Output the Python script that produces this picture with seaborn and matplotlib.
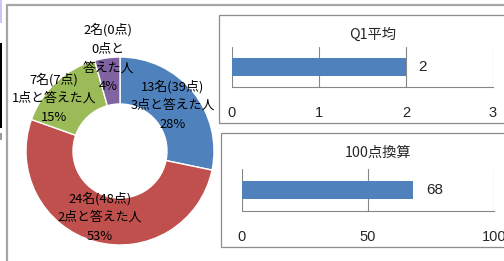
import numpy as np
import pandas as pd
import seaborn as sns
import matplotlib.pyplot as plt
from matplotlib.patches import Rectangle
from matplotlib.lines import Line2D

# dados do gráfico
grupos = ["3点と答えた人", "2点と答えた人", "1点と答えた人", "0点と\n答えた人"]
nomes = [13, 24, 7, 2]
pontos = [39, 48, 7, 0]
percentuais = [28, 53, 15, 4]
cores = ["#4F81BD", "#C0504D", "#9BBB59", "#8064A2"]

q1_titulo = "Q1平均"
q1_media = 2
q1_ticks = [0, 1, 2, 3]

cem_titulo = "100点換算"
cem_valor = 68
cem_ticks = [0, 50, 100]

W, H = 504, 261

sns.set_style("white")
plt.rcParams['font.family'] = ['Noto Sans CJK JP', 'DejaVu Sans']

fig = plt.figure(figsize=(W / 100, H / 100), dpi=100)
fig.patch.set_facecolor("white")


def fx(px):
    return px / W


def fy(py):
    return 1 - py / H


# moldura externa e marcas da planilha à esquerda
moldura = "#A6A6A6"
fig.add_artist(Line2D([fx(7), fx(504)], [fy(5), fy(5)], color=moldura, lw=1.6, zorder=-2))
fig.add_artist(Line2D([fx(7), fx(7)], [fy(5), fy(261)], color=moldura, lw=1.6, zorder=-2))
fig.add_artist(Rectangle((0, fy(23)), fx(1.5), 23 / H, color="#C8C8F4", lw=0))
fig.add_artist(Rectangle((0, fy(128)), fx(2.2), 85 / H, color="black", lw=0))
fig.add_artist(Rectangle((0, fy(140)), fx(1.5), 7 / H, color="#9A9A9A", lw=0))

# rosca
R = 94
cx, cy = 120, 151
ax_pie = fig.add_axes([fx(cx - R), fy(cy + R), 2 * R / W, 2 * R / H])
ax_pie.pie(nomes, colors=cores, startangle=90, counterclock=False,
           wedgeprops=dict(width=0.5, edgecolor="white", linewidth=1))
ax_pie.set_xlim(-1, 1)
ax_pie.set_ylim(-1, 1)
ax_pie.set_aspect("auto")
ax_pie.axis("off")

# rótulos da rosca
posicoes = [(173, 105), (100, 217), (54, 98), (108, 58)]
for g, n, p, pc, (px, py) in zip(grupos, nomes, pontos, percentuais, posicoes):
    texto = f"{n}名({p}点)\n{g}\n{pc}%"
    fig.text(fx(px), fy(py), texto, ha="center", va="center", ma="center",
             fontsize=9.3, color="black", linespacing=1.58)

# caixas dos gráficos de barras (atrás dos eixos)
borda = "#8C8C8C"
fig.add_artist(Rectangle((fx(219), fy(123)), fx(300), 108 / H,
                         facecolor="white", edgecolor=borda, lw=0.9, zorder=-1))
fig.add_artist(Rectangle((fx(221), fy(247)), fx(300), 114 / H,
                         facecolor="white", edgecolor=borda, lw=0.9, zorder=-1))


def barra(ax, valor, ticks, titulo, tx, ty):
    sns.barplot(x=[valor], y=[titulo], orient="h", color="#4F81BD",
                width=0.43, saturation=1, linewidth=0, ax=ax)
    ax.set_xlim(ticks[0], ticks[-1])
    ax.set_ylim(0.5, -0.5)
    ax.set_xticks(ticks)
    ax.set_xticklabels([str(t) for t in ticks], family="Liberation Sans", fontsize=10.5)
    ax.set_yticks([])
    ax.set_xlabel("")
    ax.set_ylabel("")
    ax.tick_params(axis="x", length=0, pad=14)
    ax.grid(axis="x", color="#868686", lw=0.8)
    ax.set_axisbelow(True)
    for s in ["top", "left", "right"]:
        ax.spines[s].set_visible(False)
    ax.spines["bottom"].set_color("#868686")
    ax.spines["bottom"].set_linewidth(0.8)
    ax.patch.set_alpha(0)
    ax.bar_label(ax.containers[0], padding=9, fontsize=11, family="Liberation Sans")
    fig.text(fx(tx), fy(ty), titulo, ha="center", va="center", fontsize=10.3)


ax1 = fig.add_axes([fx(232), fy(87), 261 / W, 40 / H])
barra(ax1, q1_media, q1_ticks, q1_titulo, 373, 35)

ax2 = fig.add_axes([fx(242), fy(211), 252 / W, 42 / H])
barra(ax2, cem_valor, cem_ticks, cem_titulo, 378, 153)

fig.savefig("out.png", dpi=100)
